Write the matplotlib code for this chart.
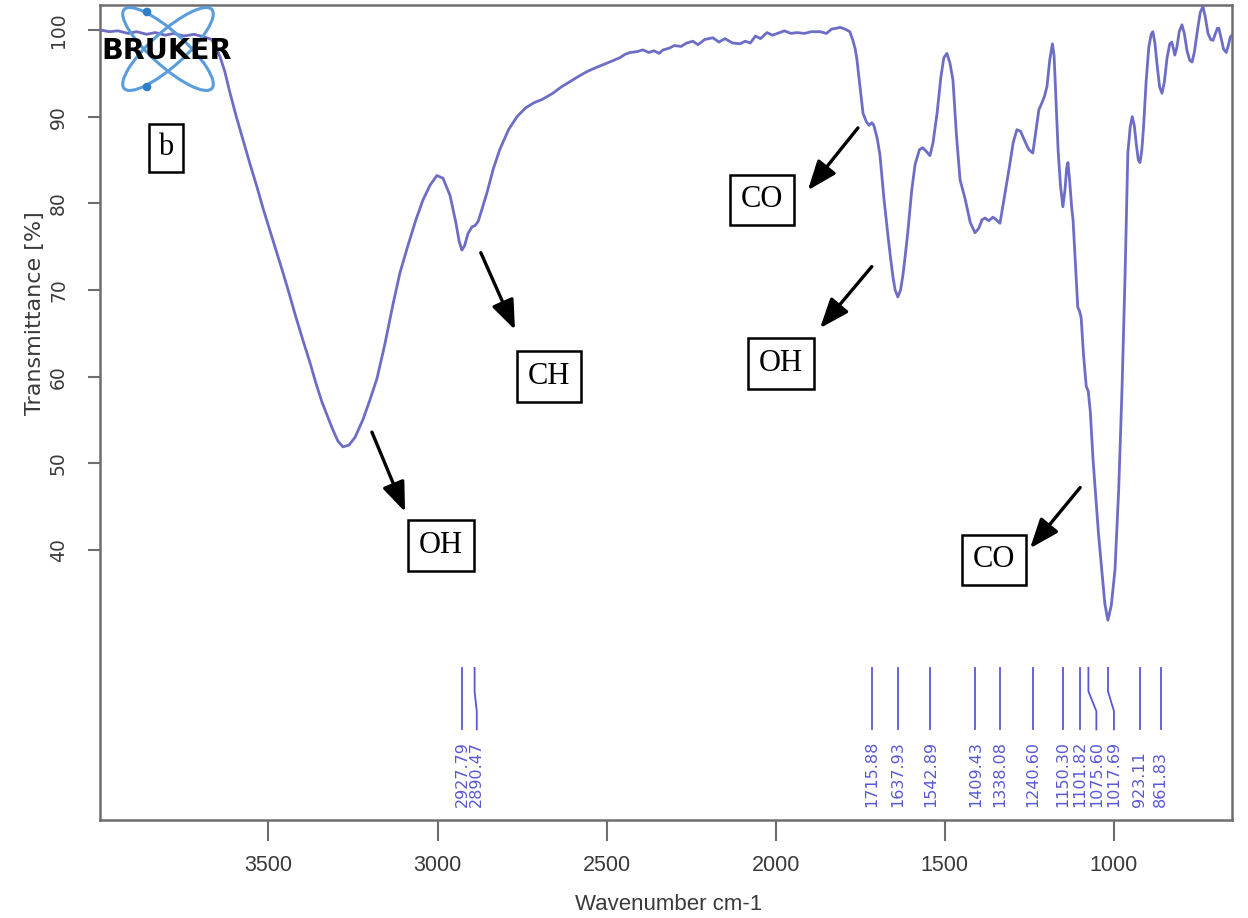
import matplotlib
matplotlib.use("Agg")
from matplotlib import pyplot as plt
from matplotlib.patches import Ellipse, Circle

# FTIR spectrum: wavenumber (cm-1) and transmittance (%)
wavenumber = [
    3998, 3970, 3945, 3915, 3890, 3860, 3835, 3805, 3780, 3750, 3720, 3690,
    3668, 3655, 3643, 3629, 3614, 3595, 3575, 3555, 3534, 3515, 3496, 3476,
    3457, 3438, 3419, 3398, 3377, 3360, 3342, 3326, 3312, 3295, 3280, 3262,
    3244, 3221, 3200, 3179, 3156, 3132, 3111, 3087, 3064, 3043, 3022, 3002,
    2984, 2963, 2946, 2936, 2928, 2920, 2910, 2898, 2890,
    2880, 2868, 2854, 2835, 2816, 2790, 2765, 2740, 2715, 2690, 2659, 2635,
    2610, 2585, 2558, 2535, 2510, 2485, 2461, 2445, 2430, 2410, 2393, 2375,
    2360, 2345, 2333, 2315, 2300, 2280, 2263, 2245, 2230, 2210, 2186, 2168,
    2150, 2128, 2106, 2090, 2075, 2060, 2045, 2026, 2010, 1995, 1975, 1955,
    1937, 1915, 1895, 1869, 1850, 1835, 1820, 1810, 1795, 1781, 1772, 1765,
    1760, 1752, 1742, 1732, 1724, 1716, 1710, 1700, 1692, 1680, 1668, 1660,
    1653, 1647, 1639, 1631, 1624, 1617, 1609, 1598, 1588, 1575, 1565, 1555,
    1544, 1535, 1523, 1512, 1503, 1494, 1485, 1476, 1466, 1455, 1440, 1425,
    1411, 1400, 1390, 1381, 1370, 1358, 1348, 1337, 1325, 1310, 1298, 1287,
    1276, 1265, 1252, 1240, 1232, 1222, 1213, 1205, 1198, 1190, 1182, 1177,
    1172, 1165, 1158, 1151, 1145, 1140, 1136, 1131, 1125, 1121, 1114, 1107,
    1102, 1097, 1090, 1082, 1076, 1070, 1062, 1056, 1046, 1036, 1027, 1018,
    1008, 997, 986, 976, 967, 959, 952, 946, 940, 933, 928, 923,
    918, 913, 905, 897, 890, 885, 879, 872, 865, 858, 851, 843,
    835, 829, 824, 820, 814, 807, 799, 792, 784, 776, 769, 762,
    753, 745, 737, 730, 722, 714, 707, 700, 694, 690, 684, 676,
    668, 662, 656, 651,
]
transmittance = [
    100.0, 99.8, 99.9, 99.6, 99.8, 99.5, 99.7, 99.4, 99.6, 99.3, 99.5, 99.2,
    98.9, 98.0, 96.9, 95.2, 92.8, 90.0, 87.3, 84.6, 81.9, 79.3, 76.9, 74.4,
    72.0, 69.5, 66.9, 64.2, 61.6, 59.3, 57.1, 55.5, 54.1, 52.6, 51.9, 52.1,
    53.0, 55.0, 57.3, 59.8, 63.7, 68.3, 72.0, 75.2, 78.1, 80.4, 82.1, 83.2,
    82.9, 80.9, 77.8, 75.6, 74.6, 75.1, 76.5, 77.3, 77.4,
    77.9, 79.4, 81.2, 84.0, 86.2, 88.5, 90.0, 91.0, 91.6, 92.0, 92.7, 93.4,
    94.0, 94.6, 95.2, 95.6, 96.0, 96.4, 96.8, 97.2, 97.4, 97.5, 97.7, 97.4,
    97.6, 97.3, 97.7, 97.9, 98.2, 98.1, 98.5, 98.7, 98.3, 98.9, 99.1, 98.6,
    99.0, 98.5, 98.4, 98.7, 98.5, 99.3, 99.0, 99.7, 99.4, 99.6, 99.9, 99.6,
    99.7, 99.6, 99.8, 99.8, 99.6, 100.1, 100.2, 100.3, 100.1, 99.8, 98.8, 97.8,
    96.6, 93.8, 90.4, 89.4, 89.0, 89.3, 89.0, 87.5, 85.6, 80.5, 76.2, 73.5,
    71.4, 70.0, 69.2, 70.0, 71.7, 74.0, 76.9, 81.5, 84.5, 86.2, 86.4, 86.0,
    85.5, 87.0, 90.4, 94.5, 96.8, 97.3, 96.2, 94.2, 88.0, 82.7, 80.5, 77.8,
    76.6, 77.1, 78.1, 78.3, 78.0, 78.4, 78.1, 77.7, 80.5, 84.0, 87.0, 88.5,
    88.3, 87.3, 86.2, 85.8, 88.0, 90.8, 91.6, 92.4, 93.5, 96.5, 98.4, 97.0,
    92.5, 86.0, 82.0, 79.6, 81.5, 84.0, 84.7, 82.6, 79.5, 78.1, 73.0, 68.0,
    67.6, 66.8, 62.5, 58.9, 58.3, 56.0, 50.5, 47.3, 42.0, 37.7, 33.8, 31.9,
    33.6, 37.7, 47.0, 58.8, 72.0, 85.8, 88.8, 90.0, 89.0, 86.5, 85.0, 84.7,
    86.0, 88.5, 94.0, 98.0, 99.5, 99.8, 98.5, 95.8, 93.4, 92.7, 94.0, 96.8,
    98.4, 98.6, 97.8, 97.1, 98.0, 99.8, 100.6, 99.6, 97.6, 96.5, 96.3, 97.5,
    100.0, 102.0, 102.7, 101.5, 99.6, 98.9, 98.8, 99.6, 100.2, 100.2, 99.2, 97.8,
    97.4, 98.2, 99.2, 99.4,
]

# picked peaks and where their labels are printed when neighbours crowd them
peak_positions = [2927.79, 2890.47, 1715.88, 1637.93, 1542.89, 1409.43, 1338.08,
                  1240.60, 1150.30, 1101.82, 1075.60, 1017.69, 923.11, 861.83]
label_positions = [2927.79, 2884.0, 1715.88, 1637.93, 1542.89, 1409.43, 1338.08,
                   1240.60, 1150.30, 1101.82, 1052.0, 1000.0, 923.11, 861.83]

x_ticks = [3500, 3000, 2500, 2000, 1500, 1000]
y_ticks = [40, 50, 60, 70, 80, 90, 100]

line_color = "#6d6dc6"
peak_color = "#5858d4"
frame_color = "#6e6e6e"
text_color = "#3a3a3a"
sans = ["Liberation Sans", "DejaVu Sans"]
serif = ["Liberation Serif", "DejaVu Serif"]

fig = plt.figure(figsize=(12.48, 9.18), dpi=100)
ax = fig.add_axes([100 / 1248, 1 - 820 / 918, 1132 / 1248, 815 / 918])

ax.plot(wavenumber, transmittance, color=line_color, lw=2.0, zorder=3)
ax.set_xlim(3998, 651)
ax.set_ylim(8.85, 102.88)

# peak picking marks along the bottom of the plot
for pos, lab in zip(peak_positions, label_positions):
    ax.plot([pos, pos, lab, lab], [26.4, 23.7, 21.4, 19.3],
            color=peak_color, lw=1.3, zorder=2)
    ax.text(lab, 10.35, f"{pos:.2f}", rotation=90, ha="center", va="bottom",
            fontsize=11.5, color=peak_color, family="DejaVu Sans")

for side in ax.spines.values():
    side.set_color(frame_color)
    side.set_linewidth(1.8)

ax.set_xticks(x_ticks)
ax.set_xticklabels([str(t) for t in x_ticks], family=sans, fontsize=15.5, color=text_color)
ax.set_yticks(y_ticks)
ax.set_yticklabels([str(t) for t in y_ticks], rotation=90, va="center",
                   fontsize=13.5, color=text_color)
ax.tick_params(axis="x", length=15, width=1.5, color=frame_color, pad=10)
ax.tick_params(axis="y", length=9, width=1.5, color=frame_color, pad=14)
ax.set_xlabel("Wavenumber cm-1", family=sans, fontsize=16, color=text_color, va="center")
ax.xaxis.set_label_coords(0.502, -0.104)
ax.set_ylabel("Transmittance [%]", fontsize=16, color=text_color, va="center")
ax.yaxis.set_label_coords(-0.0574, 0.622)

# band assignments: label centre, arrow tail, arrow head
bands = [
    ("OH", (2990, 40.5), (3194, 53.6), (3096, 44.4)),
    ("CH", (2671, 60.0), (2872, 74.3), (2771, 65.4)),
    ("CO", (2041, 80.4), (1757, 88.7), (1905, 81.5)),
    ("OH", (1985, 61.5), (1716, 72.7), (1869, 65.6)),
    ("CO", (1355, 38.85), (1100, 47.2), (1248, 40.2)),
]
for name, centre, tail, head in bands:
    ax.text(*centre, name, ha="center", va="center", family=serif, fontsize=22,
            zorder=5, bbox=dict(boxstyle="square,pad=0.35", fc="white", ec="black", lw=1.8))
    ax.annotate("", xy=head, xytext=tail, zorder=5,
                arrowprops=dict(arrowstyle="-|>,head_length=0.9,head_width=0.35",
                                color="black", lw=2.4, mutation_scale=20,
                                shrinkA=0, shrinkB=0))

ax.text(3803, 86.4, "b", ha="center", va="center", family=serif, fontsize=22,
        zorder=5, bbox=dict(boxstyle="square,pad=0.3", fc="white", ec="black", lw=1.8))

# instrument logo in the top left corner, laid out in pixel units
logo = fig.add_axes([100 / 1248, 1 - 100 / 918, 140 / 1248, 100 / 918])
logo.set_xlim(100, 240)
logo.set_ylim(100, 0)
logo.axis("off")
logo.patch.set_alpha(0)
for ang in (42, -42):
    logo.add_patch(Ellipse((168, 49), 118, 34, angle=ang, fill=False,
                           ec="#5a9ddb", lw=2.2))
for cy in (12, 87):
    logo.add_patch(Circle((147, cy), 3.6, color="#2f7fc8"))
logo.text(167, 51, "BRUKER", ha="center", va="center", fontsize=20.5,
          fontweight="heavy", family="DejaVu Sans", color="black")

fig.savefig("out.png", dpi=100)
